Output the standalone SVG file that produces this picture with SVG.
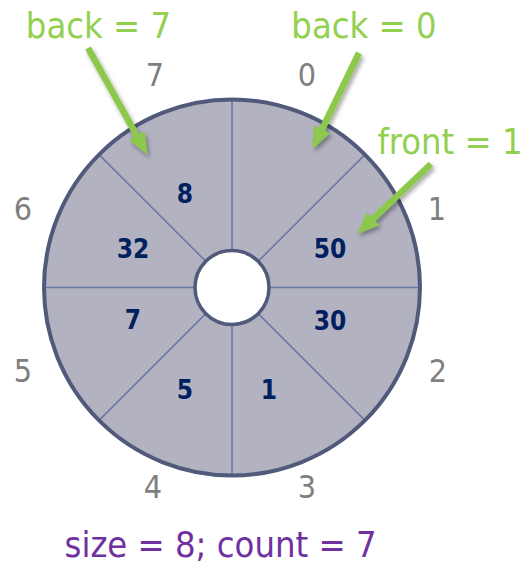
<svg xmlns="http://www.w3.org/2000/svg" width="530" height="564" viewBox="0 0 530 564">
<defs>
<style>
.wedge{fill:#b2b2c1;stroke:none}
.val{font-family:"DejaVu Sans Condensed","DejaVu Sans",sans-serif;font-weight:bold;font-size:26px;fill:#002060;text-anchor:middle}
.idx{font-family:"DejaVu Sans Condensed","DejaVu Sans",sans-serif;font-size:32px;fill:#7f7f7f;text-anchor:middle}
.note{font-family:"DejaVu Sans Condensed","DejaVu Sans",sans-serif;font-size:36px;fill:#92d050;text-anchor:middle}
.size{font-family:"DejaVu Sans Condensed","DejaVu Sans",sans-serif;font-size:36px;fill:#7030a0;text-anchor:middle}
.spoke{stroke:#6b78a5;stroke-width:1.6}
.arrow{stroke:#8cc84b;stroke-width:6.5;fill:none;marker-end:url(#head)}
</style>
<marker id="head" markerUnits="userSpaceOnUse" markerWidth="22" markerHeight="20" viewBox="0 0 22 20" refX="9" refY="10" orient="auto">
<path d="M0,1 L22,10 L0,19 Z" fill="#8cc84b"/>
</marker>
<filter id="shadow" x="-30%" y="-30%" width="160%" height="160%">
<feDropShadow dx="2" dy="3" stdDeviation="2" flood-color="#000" flood-opacity="0.35"/>
</filter>
</defs>

<g id="slot-0"><path class="wedge" d="M232,99.5 A188,188 0 0 1 364.93,154.57 L258.16,261.34 A37,37 0 0 0 232,250.5 Z"/></g>
<g id="slot-1"><path class="wedge" d="M364.93,154.57 A188,188 0 0 1 420,287.5 L269,287.5 A37,37 0 0 0 258.16,261.34 Z"/><text class="val" x="330" y="258">50</text></g>
<g id="slot-2"><path class="wedge" d="M420,287.5 A188,188 0 0 1 364.93,420.43 L258.16,313.66 A37,37 0 0 0 269,287.5 Z"/><text class="val" x="330" y="330">30</text></g>
<g id="slot-3"><path class="wedge" d="M364.93,420.43 A188,188 0 0 1 232,475.5 L232,324.5 A37,37 0 0 0 258.16,313.66 Z"/><text class="val" x="269" y="399">1</text></g>
<g id="slot-4"><path class="wedge" d="M232,475.5 A188,188 0 0 1 99.07,420.43 L205.84,313.66 A37,37 0 0 0 232,324.5 Z"/><text class="val" x="185" y="399">5</text></g>
<g id="slot-5"><path class="wedge" d="M99.07,420.43 A188,188 0 0 1 44,287.5 L195,287.5 A37,37 0 0 0 205.84,313.66 Z"/><text class="val" x="133" y="329">7</text></g>
<g id="slot-6"><path class="wedge" d="M44,287.5 A188,188 0 0 1 99.07,154.57 L205.84,261.34 A37,37 0 0 0 195,287.5 Z"/><text class="val" x="133" y="258">32</text></g>
<g id="slot-7"><path class="wedge" d="M99.07,154.57 A188,188 0 0 1 232,99.5 L232,250.5 A37,37 0 0 0 205.84,261.34 Z"/><text class="val" x="185" y="203">8</text></g>

<g id="ring">
<line class="spoke" x1="232" y1="99.5" x2="232" y2="250.5"/>
<line class="spoke" x1="364.93" y1="154.57" x2="258.16" y2="261.34"/>
<line class="spoke" x1="420" y1="287.5" x2="269" y2="287.5"/>
<line class="spoke" x1="364.93" y1="420.43" x2="258.16" y2="313.66"/>
<line class="spoke" x1="232" y1="475.5" x2="232" y2="324.5"/>
<line class="spoke" x1="99.07" y1="420.43" x2="205.84" y2="313.66"/>
<line class="spoke" x1="44" y1="287.5" x2="195" y2="287.5"/>
<line class="spoke" x1="99.07" y1="154.57" x2="205.84" y2="261.34"/>
<circle cx="232" cy="287.5" r="188" fill="none" stroke="#515a7b" stroke-width="4"/>
<circle cx="232" cy="287.5" r="37" fill="#ffffff" stroke="#515a7b" stroke-width="3.5"/>
</g>

<g id="indices">
<text class="idx" x="307" y="86">0</text>
<text class="idx" x="437" y="220">1</text>
<text class="idx" x="438" y="382">2</text>
<text class="idx" x="307" y="498">3</text>
<text class="idx" x="153" y="498">4</text>
<text class="idx" x="23" y="382">5</text>
<text class="idx" x="23" y="220">6</text>
<text class="idx" x="155" y="86">7</text>
</g>

<g id="connectors" filter="url(#shadow)">
<line class="arrow" x1="88" y1="48" x2="141.2" y2="143.5"/>
<line class="arrow" x1="359" y1="53" x2="318.2" y2="137.2"/>
<line class="arrow" x1="431" y1="164" x2="366.7" y2="224.8"/>
</g>

<g id="label-back7"><text class="note" x="98.5" y="38">back = 7</text></g>
<g id="label-back0"><text class="note" x="364" y="38">back = 0</text></g>
<g id="label-front1"><text class="note" x="450" y="154">front = 1</text></g>
<g id="label-size"><text class="size" x="220.5" y="557">size = 8; count = 7</text></g>
</svg>
